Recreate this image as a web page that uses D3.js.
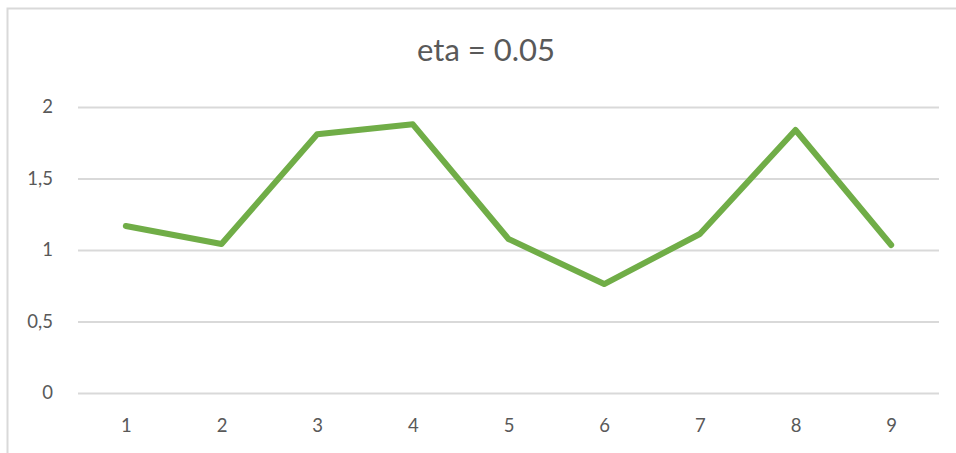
<!DOCTYPE html>
<html>
<head>
<meta charset="utf-8">
<script src="https://cdn.jsdelivr.net/npm/d3@7"></script>
<style>
  html, body { margin: 0; padding: 0; background: #fff; }
  svg { display: block; }
</style>
</head>
<body>
<svg id="chart" width="956" height="453"></svg>
<script>
// Series data
const categories = ["1", "2", "3", "4", "5", "6", "7", "8", "9"];
const values = [1.168, 1.042, 1.809, 1.879, 1.077, 0.762, 1.112, 1.839, 1.035];
const yTicks = [0, 0.5, 1, 1.5, 2];
const title = "eta = 0.05";

const W = 956, H = 453;
const plot = { left: 78, right: 939, top: 107, bottom: 393 };
const font = "Lato, 'Open Sans', sans-serif";
const textColor = "#595959";

const svg = d3.select("#chart");

// Chart frame
svg.append("rect")
  .attr("x", 7.5).attr("y", 8.5)
  .attr("width", W + 20).attr("height", H + 20)
  .attr("fill", "#fff")
  .attr("stroke", "#d9d9d9")
  .attr("stroke-width", 2);

const x = d3.scalePoint()
  .domain(categories)
  .range([plot.left, plot.right])
  .padding(0.5);

const y = d3.scaleLinear()
  .domain([0, 2])
  .range([plot.bottom, plot.top]);

const fmt = v => String(v).replace(".", ",");

// Horizontal gridlines + y labels
const yAxis = d3.axisLeft(y)
  .tickValues(yTicks)
  .tickFormat(fmt)
  .tickSize(-(plot.right - plot.left))
  .tickPadding(25);

const gy = svg.append("g")
  .attr("transform", `translate(${plot.left},0)`)
  .call(yAxis);
gy.select(".domain").remove();
gy.selectAll(".tick line")
  .attr("stroke", "#d9d9d9")
  .attr("stroke-width", 2);
gy.selectAll(".tick text")
  .attr("fill", textColor)
  .style("font-family", font)
  .style("font-size", "18.5px");

// X labels
const xAxis = d3.axisBottom(x).tickSize(0).tickPadding(26);
const gx = svg.append("g")
  .attr("transform", `translate(0,${plot.bottom})`)
  .call(xAxis);
gx.select(".domain").remove();
gx.selectAll(".tick text")
  .attr("fill", textColor)
  .style("font-family", font)
  .style("font-size", "18.5px");

// Data line
const line = d3.line()
  .x((d, i) => x(categories[i]))
  .y(d => y(d));

svg.append("path")
  .datum(values)
  .attr("d", line)
  .attr("fill", "none")
  .attr("stroke", "#70ad47")
  .attr("stroke-width", 6)
  .attr("stroke-linejoin", "round")
  .attr("stroke-linecap", "round");

// Title
svg.append("text")
  .attr("x", 486)
  .attr("y", 61)
  .attr("text-anchor", "middle")
  .attr("fill", textColor)
  .style("font-family", font)
  .style("font-size", "31px")
  .text(title);
</script>
</body>
</html>
